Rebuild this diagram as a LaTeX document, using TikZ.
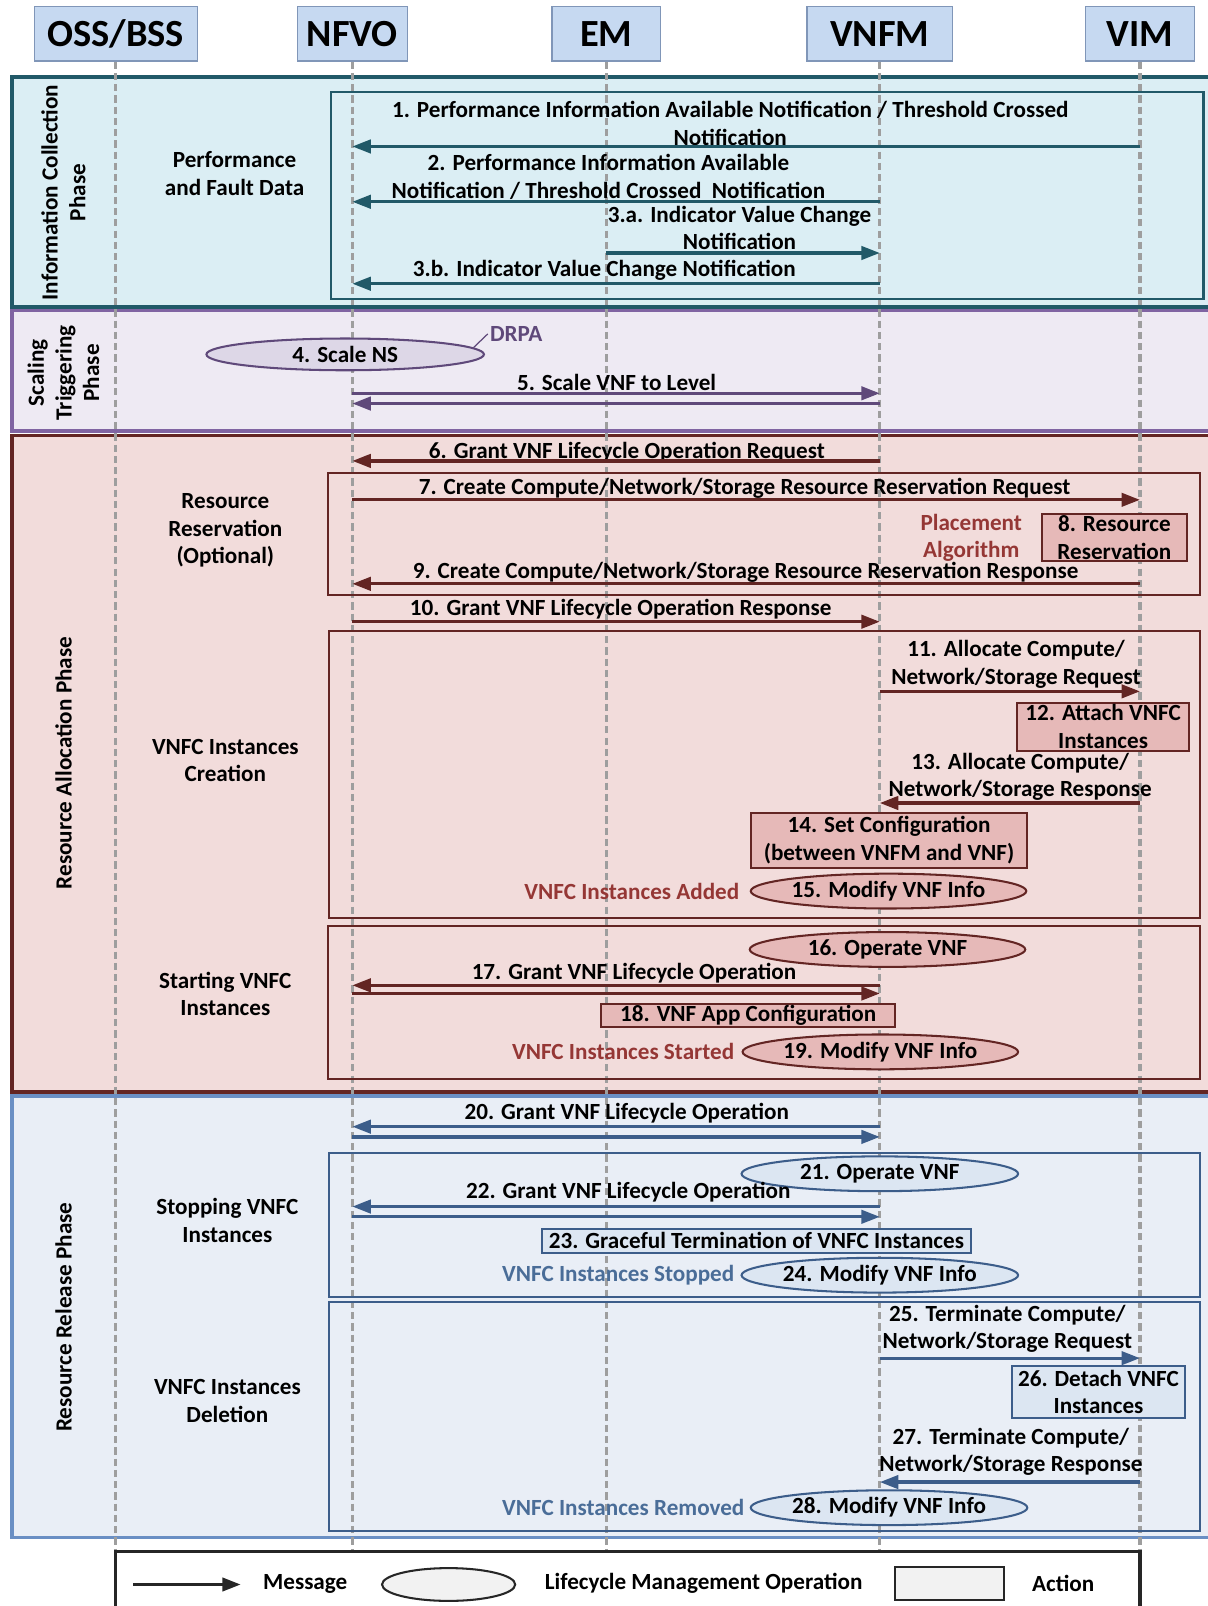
\documentclass[tikz,border=0pt]{standalone}
\usepackage{fontspec}
\setmainfont{Carlito}
\usetikzlibrary{positioning,shapes.geometric,arrows.meta}

\definecolor{headfill}{HTML}{C6D9F1}
\definecolor{headline}{HTML}{8096B8}
\definecolor{lifegray}{HTML}{9E9E9E}
\definecolor{tealline}{HTML}{215968}
\definecolor{tealfill}{HTML}{DBEEF4}
\definecolor{purpline}{HTML}{8064A2}
\definecolor{purpfill}{HTML}{EEEAF3}
\definecolor{purpdark}{HTML}{5F497A}
\definecolor{purpell}{HTML}{DDD7E7}
\definecolor{redline}{HTML}{632523}
\definecolor{redfill}{HTML}{F2DCDB}
\definecolor{redbox}{HTML}{E6B9B8}
\definecolor{redtext}{HTML}{953735}
\definecolor{blueline}{HTML}{6A8FC4}
\definecolor{bluefill}{HTML}{E9EEF6}
\definecolor{bluedark}{HTML}{3C5D8A}
\definecolor{bluebox}{HTML}{DCE6F2}
\definecolor{bluetext}{HTML}{4A6D98}
\definecolor{legline}{HTML}{262626}
\definecolor{legfill}{HTML}{F2F2F2}

\begin{document}
\begin{tikzpicture}[x=1pt, y=-1pt,
    every node/.style={font=\bfseries\fontsize{22.6}{27}\selectfont, align=center, text=black},
    head/.style={rectangle, draw=headline, fill=headfill, line width=1.2pt,
        minimum height=53pt, inner sep=0pt, font=\bfseries\fontsize{37.5}{40}\selectfont},
    life/.style={draw=lifegray, line width=3.2pt, dash pattern=on 7pt off 4pt},
    phase/.style={line width=3.5pt},
    subframe/.style={line width=2pt},
    lbl/.style={inner sep=0pt},
    msg/.style={line width=3.2pt, -{Triangle[length=18pt,width=13pt]}},
    act/.style={rectangle, line width=2pt, inner sep=0pt},
    op/.style={ellipse, line width=2pt, inner sep=0pt, minimum height=34pt},
    note/.style={inner sep=2pt}
]
\useasboundingbox (0,0) rectangle (1179,1568);

% phases
\draw[phase, draw=tealline, fill=tealfill] (12,75) rectangle (1186,300);
\draw[phase, draw=purpline, fill=purpfill] (12,303) rectangle (1186,421);
\draw[phase, draw=redline, fill=redfill] (12,425) rectangle (1186,1066);
\draw[phase, draw=blueline, fill=bluefill] (12,1070) rectangle (1186,1501);

\node[rotate=90] (ph1) at (62,188) {Information Collection\\Phase};
\node[rotate=90] (ph2) at (62,364) {Scaling\\Triggering\\Phase};
\node[rotate=90] (ph3) at (62,745) {Resource Allocation Phase};
\node[rotate=90] (ph4) at (62,1286) {Resource Release Phase};

\node (g1) at (229,169.5) {Performance\\and Fault Data};
\node (g2) at (220,518) {Resource\\Reservation\\(Optional)};
\node (g3) at (220,742.5) {VNFC Instances\\Creation};
\node (g4) at (220,970.5) {Starting VNFC\\Instances};
\node (g5) at (222,1191.5) {Stopping VNFC\\Instances};
\node (g6) at (222,1368) {VNFC Instances\\Deletion};

% entities and lifelines
\node[head, minimum width=159pt] (oss) at (113,33) {OSS/BSS};
\node[head, minimum width=107pt] (nfvo) at (344,33) {NFVO};
\node[head, minimum width=106pt] (em) at (592,33) {EM};
\node[head, minimum width=142pt] (vnfm) at (859,33) {VNFM};
\node[head, minimum width=107pt] (vim) at (1113,33) {VIM};

\coordinate (lifeend) at (0,1513);
\foreach \n in {oss,nfvo,em,vnfm,vim}
    \draw[life] (\n.south) -- (\n |- lifeend);

\draw[subframe, draw=tealline] (323,90) rectangle (1175,292);
\draw[subframe, draw=redline] (320,462) rectangle (1172,581);
\draw[subframe, draw=redline] (321,616) rectangle (1172,896);
\draw[subframe, draw=redline] (320,904) rectangle (1172,1053);
\draw[subframe, draw=bluedark] (321,1126) rectangle (1172,1266);
\draw[subframe, draw=bluedark] (321,1271) rectangle (1172,1495);

% information collection
\node[lbl] (m1) at (713,120.5) {1. Performance Information Available Notification / Threshold Crossed\\Notification};
\draw[msg, tealline] (vim |- 0,143) -- (nfvo |- 0,143);
\node[lbl] (m2) at (594,172.5) {2. Performance Information Available\\Notification / Threshold Crossed~~Notification};
\draw[msg, tealline] (vnfm |- 0,197) -- (nfvo |- 0,197);
\node[lbl] (m3a) at (722,222.5) {3.a. Indicator Value Change\\Notification};
\draw[msg, tealline] (em |- 0,247) -- (vnfm |- 0,247);
\node[lbl] (m3b) at (590,264) {3.b. Indicator Value Change Notification};
\draw[msg, tealline] (vnfm |- 0,277) -- (nfvo |- 0,277);

% scaling triggering
\node[op, draw=purpdark, fill=purpell, minimum width=271pt, minimum height=31pt] (e4) at (337,346) {4. Scale NS};
\node[note, text=purpdark] (drpa) at (504,326) {DRPA};
\draw[purpdark, line width=1.2pt] (e4.3) -- (drpa.west);
\node[lbl] (m5) at (602,373) {5. Scale VNF to Level};
\draw[msg, purpdark] (nfvo |- 0,384) -- (vnfm |- 0,384);
\draw[msg, purpdark] (vnfm |- 0,394) -- (nfvo |- 0,394);

% resource allocation
\node[lbl] (m6) at (612,441) {6. Grant VNF Lifecycle Operation Request};
\draw[msg, redline] (vnfm |- 0,450) -- (nfvo |- 0,450);
\node[lbl] (m7) at (727,477) {7. Create Compute/Network/Storage Resource Reservation Request};
\draw[msg, redline] (nfvo |- 0,488) -- (vim |- 0,488);
\node[act, draw=redline, fill=redbox, minimum width=142pt, minimum height=46pt] (b8) at (1088,525) {8. Resource\\Reservation};
\node[note, text=redtext, left=16pt of b8] (alg) {Placement\\Algorithm};
\node[lbl] (m9) at (728,559) {9. Create Compute/Network/Storage Resource Reservation Response};
\draw[msg, redline] (vim |- 0,570) -- (nfvo |- 0,570);
\node[lbl] (m10) at (606,595) {10. Grant VNF Lifecycle Operation Response};
\draw[msg, redline] (nfvo |- 0,607) -- (vnfm |- 0,607);

\node[lbl] (m11) at (992,648.5) {11. Allocate Compute/\\Network/Storage Request};
\draw[msg, redline] (vnfm |- 0,675) -- (vim |- 0,675);
\node[act, draw=redline, fill=redbox, minimum width=168pt, minimum height=47pt] (b12) at (1077,709.5) {12. Attach VNFC\\Instances};
\node[lbl] (m13) at (996,758.5) {13. Allocate Compute/\\Network/Storage Response};
\draw[msg, redline] (vim |- 0,784) -- (vnfm |- 0,784);
\node[act, draw=redline, fill=redbox, minimum width=270pt, minimum height=53pt] (b14) at (868,820.5) {14. Set Configuration\\(between VNFM and VNF)};
\node[op, draw=redline, fill=redbox, minimum width=269pt] (e15) at (867.5,870) {15. Modify VNF Info};
\node[note, text=redtext, left=8pt of e15] (n15) {VNFC Instances Added};

\node[op, draw=redline, fill=redbox, minimum width=269pt] (e16) at (866.5,927) {16. Operate VNF};
\node[lbl] (m17) at (619,950) {17. Grant VNF Lifecycle Operation};
\draw[msg, redline] (vnfm |- 0,962) -- (nfvo |- 0,962);
\draw[msg, redline] (nfvo |- 0,970) -- (vnfm |- 0,970);
\node[act, draw=redline, fill=redbox, minimum width=287pt, minimum height=23pt] (b18) at (730.5,991.5) {18. VNF App Configuration};
\node[op, draw=redline, fill=redbox, minimum width=269pt] (e19) at (859.5,1027) {19. Modify VNF Info};
\node[note, text=redtext, left=5pt of e19] (n19) {VNFC Instances Started};

% resource release
\node[lbl] (m20) at (612,1087) {20. Grant VNF Lifecycle Operation};
\draw[msg, bluedark] (vnfm |- 0,1100) -- (nfvo |- 0,1100);
\draw[msg, bluedark] (nfvo |- 0,1110) -- (vnfm |- 0,1110);
\node[op, draw=bluedark, fill=bluebox, minimum width=270pt] (e21) at (859,1146) {21. Operate VNF};
\node[lbl] (m22) at (613.5,1164) {22. Grant VNF Lifecycle Operation};
\draw[msg, bluedark] (vnfm |- 0,1178) -- (nfvo |- 0,1178);
\draw[msg, bluedark] (nfvo |- 0,1188) -- (vnfm |- 0,1188);
\node[act, draw=bluedark, fill=bluebox, minimum width=419pt, minimum height=23pt] (b23) at (738.5,1211.5) {23. Graceful Termination of VNFC Instances};
\node[op, draw=bluedark, fill=bluebox, minimum width=270pt] (e24) at (859,1245) {24. Modify VNF Info};
\node[note, text=bluetext, left=4pt of e24] (n24) {VNFC Instances Stopped};

\node[lbl] (m25) at (983.5,1297.5) {25. Terminate Compute/\\Network/Storage Request};
\draw[msg, bluedark] (vnfm |- 0,1326) -- (vim |- 0,1326);
\node[act, draw=bluedark, fill=bluebox, minimum width=169pt, minimum height=50pt] (b26) at (1072.5,1359) {26. Detach VNFC\\Instances};
\node[lbl] (m27) at (987,1417.5) {27. Terminate Compute/\\Network/Storage Response};
\draw[msg, bluedark] (vim |- 0,1447) -- (vnfm |- 0,1447);
\node[op, draw=bluedark, fill=bluebox, minimum width=270pt] (e28) at (868,1472) {28. Modify VNF Info};
\node[note, text=bluetext, left=3pt of e28] (n28) {VNFC Instances Removed};

% legend
\draw[line width=3pt, draw=legline, fill=white] (oss |- 0,1515) rectangle (vim |- 0,1582);
\coordinate (lega) at (130,1547);
\coordinate (legb) at (235,1547);
\draw[msg, legline] (lega) -- (legb);
\node (lmsg) at (298,1546) {Message};
\node[op, draw=legline, fill=legfill, minimum width=130pt, minimum height=32pt] (lop) at (438,1547) {};
\node (llmo) at (687,1546) {Lifecycle Management Operation};
\node[act, draw=legline, fill=legfill, minimum width=106pt, minimum height=32pt] (lact) at (927,1546) {};
\node (lacttxt) at (1038,1546) {Action};

\end{tikzpicture}
\end{document}
